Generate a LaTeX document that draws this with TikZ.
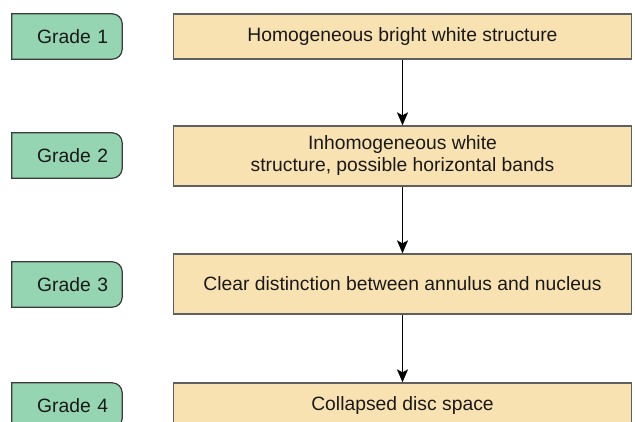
\documentclass[tikz,border=0pt]{standalone}
\usepackage{fontspec}
\setmainfont{Liberation Sans}
\usetikzlibrary{arrows.meta}
\usetikzlibrary{backgrounds}

\definecolor{gradegreen}{HTML}{95D5B2}
\definecolor{gradeline}{HTML}{3A3A3A}
\definecolor{stageorange}{HTML}{F9E2B1}
\definecolor{stageline}{HTML}{5F5F5F}

\tikzset{
  gradebox/.style={minimum height=45pt, text width=82pt, inner xsep=14pt, inner ysep=0pt, align=right},
  gradeoutline/.style={draw=gradeline, fill=gradegreen, line width=1.2pt},
  stagebox/.style={draw=stageline, fill=stageorange, line width=1.3pt, minimum width=458pt, inner sep=0pt, align=center},
  flow/.style={-{Stealth[length=13pt,width=11pt,inset=3pt]}, line width=1.2pt}
}

\begin{document}
\begin{tikzpicture}[x=1pt,y=1pt, every node/.style={font=\fontsize{19.3}{22}\selectfont, text=black!90}]
            % page
            \useasboundingbox (0,0) rectangle (635,-422);
            \clip (0,0) rectangle (635,-422);

            % grades on the left
            \foreach \i/\y in {1/36.5,2/155.5,3/284.5,4/405.5}
                \node[gradebox] (grade\i) at (67,-\y) {Grade \i};

            % grade boxes, rounded on the right only
            \begin{scope}[on background layer]
                \clip (0,0) rectangle (635,-422);
                \foreach \i in {1,...,4}
                    \filldraw[gradeoutline] (grade\i.south west) -- (grade\i.north west)
                        -- ([xshift=-10pt]grade\i.north east) arc[start angle=90, end angle=0, radius=10pt]
                        -- ([yshift=10pt]grade\i.south east) arc[start angle=0, end angle=-90, radius=10pt]
                        -- cycle;
            \end{scope}

            % stages
            \node[stagebox, minimum height=45pt] (stage1) at (402.5,-36.5) {Homogeneous bright white structure};
            \node[stagebox, minimum height=60pt] (stage2) at (402.5,-156) {Inhomogeneous white\\structure, possible horizontal bands};
            \node[stagebox, minimum height=60pt] (stage3) at (402.5,-284) {Clear distinction between annulus and nucleus};
            \node[stagebox, minimum height=45pt] (stage4) at (402.5,-405.5) {Collapsed disc space};

            % arrows
            \foreach \a/\b in {1/2,2/3,3/4}
                \draw[flow] (stage\a.south) -- (stage\b.north);

        \end{tikzpicture}
\end{document}
